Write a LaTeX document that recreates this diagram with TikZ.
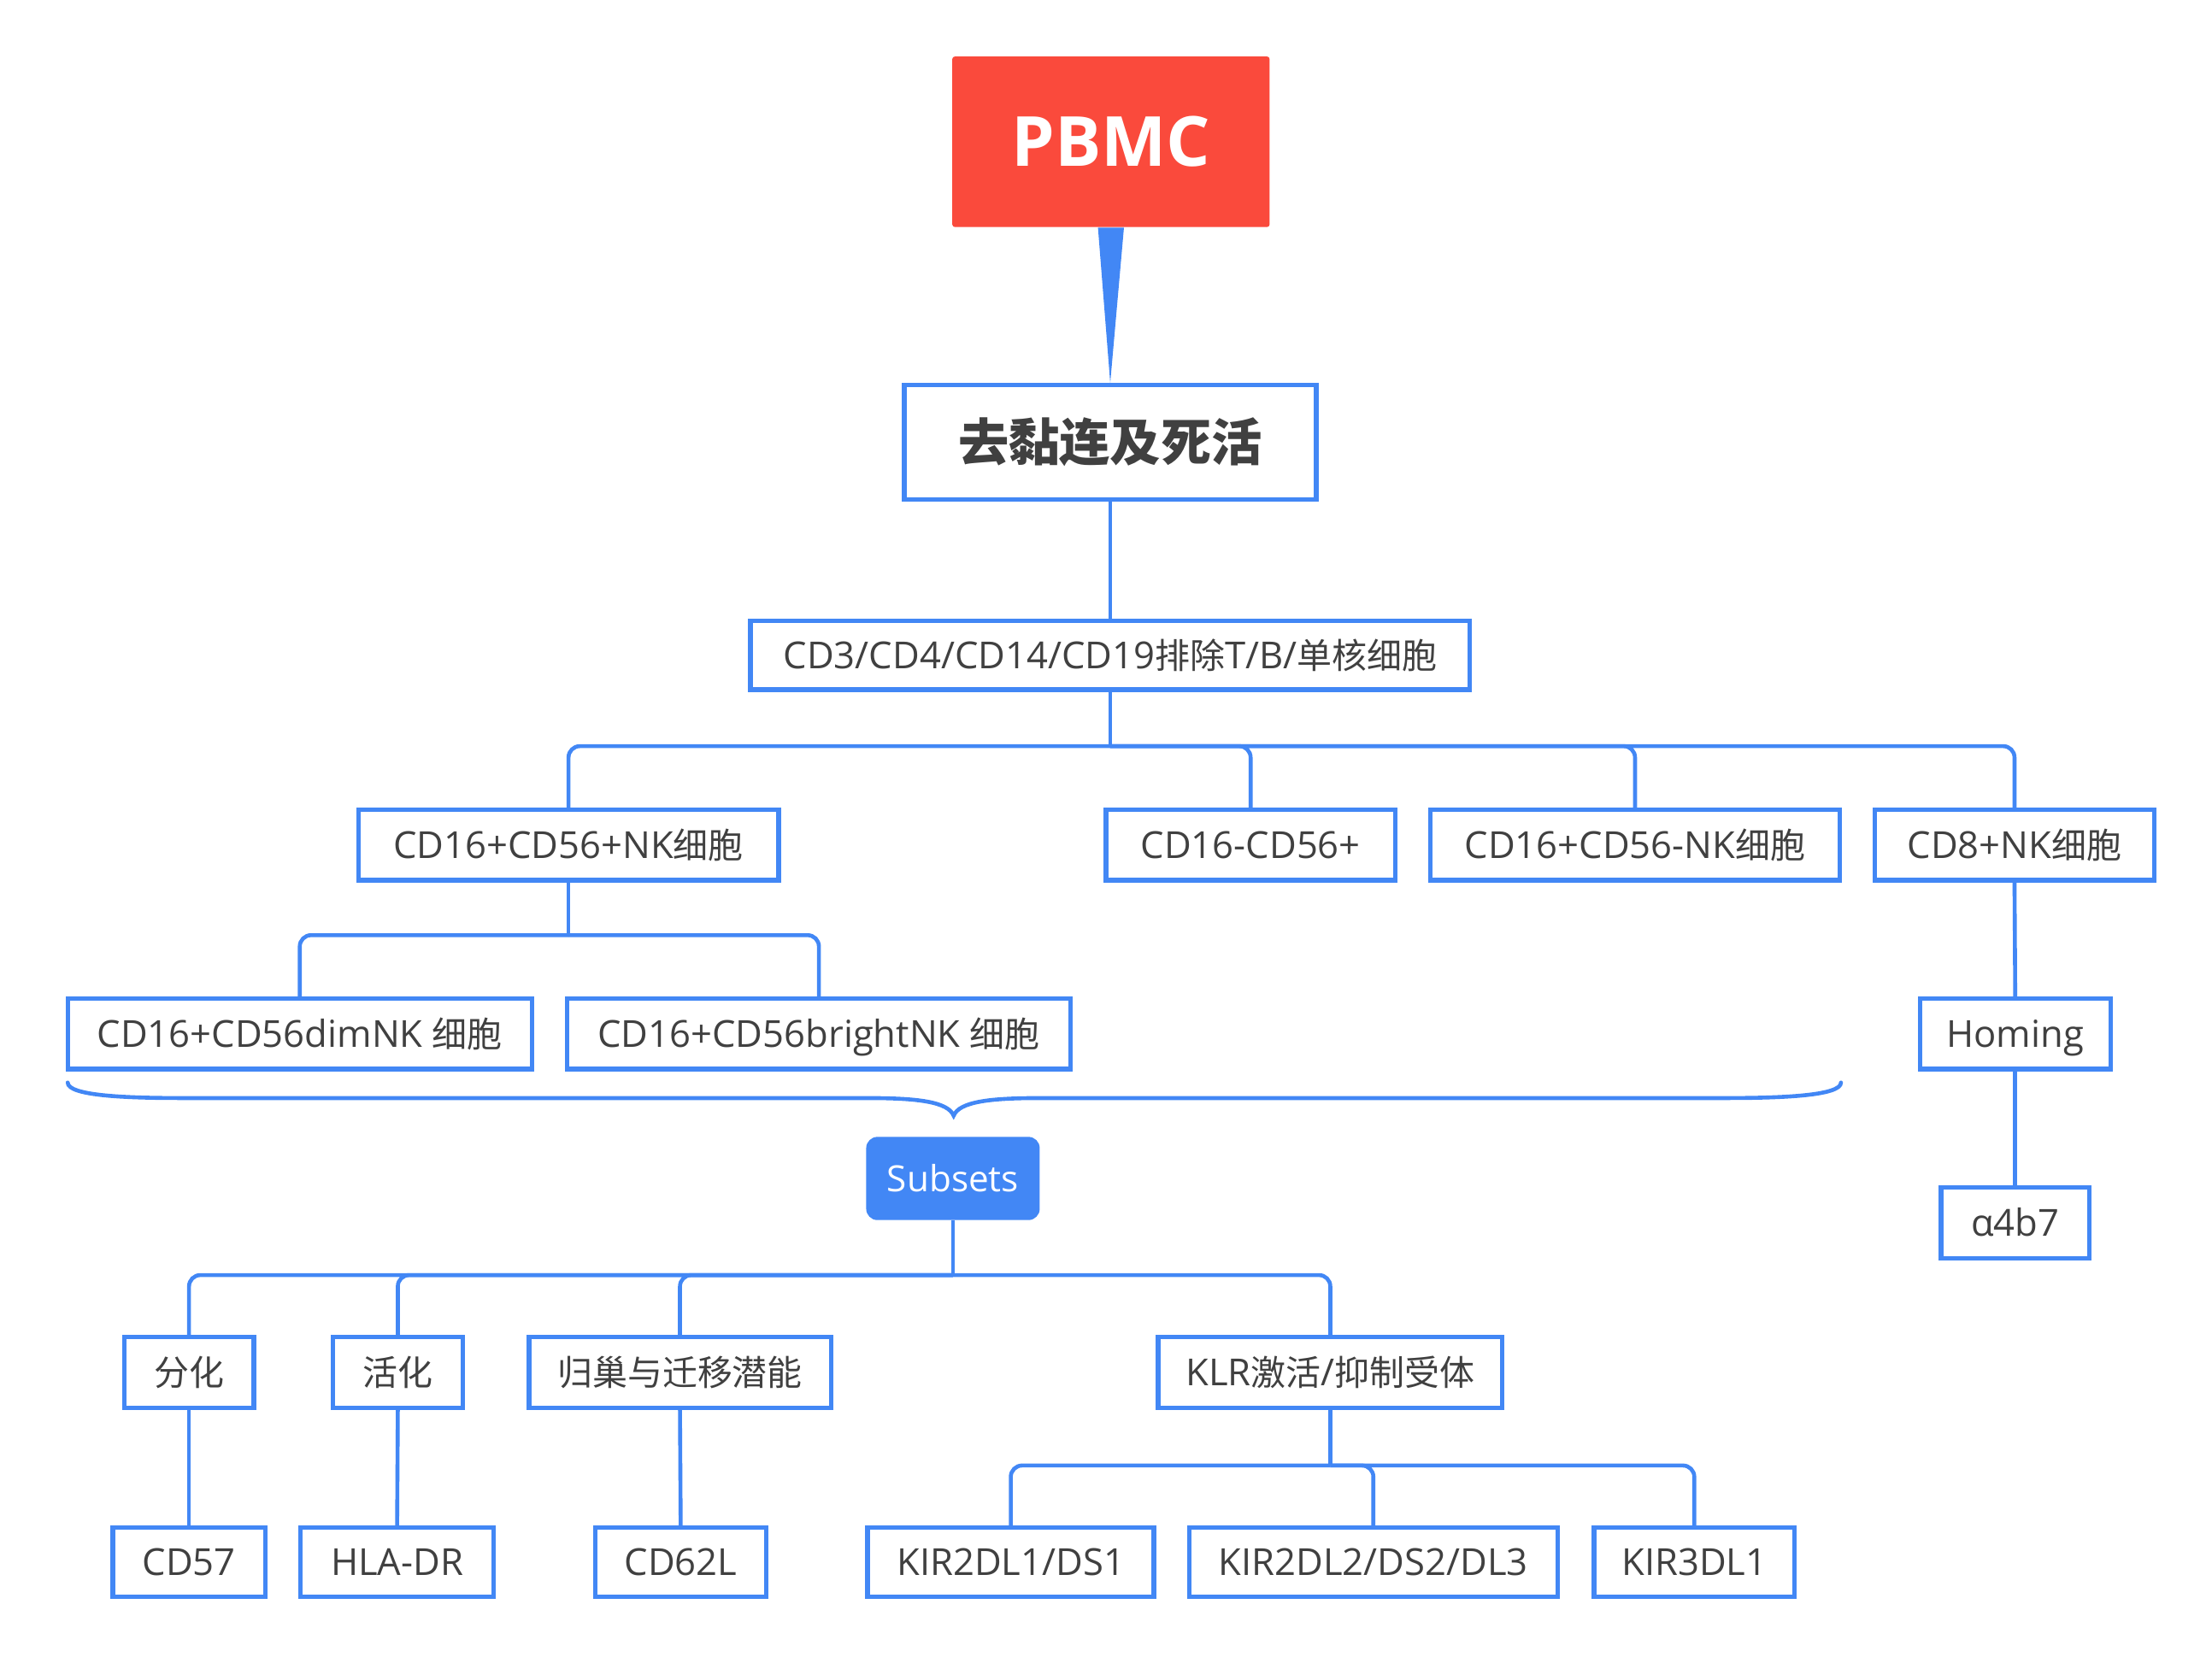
\documentclass[tikz,border=0pt]{standalone}
\usepackage{fontspec}
\setmainfont{Open Sans}
\newfontfamily\cjk[Scale=0.94]{Noto Sans CJK SC}
\definecolor{xblue}{RGB}{66,135,245}
\definecolor{xred}{RGB}{250,74,60}
\definecolor{xtext}{RGB}{64,64,64}
\tikzset{
  box/.style={draw=xblue, line width=1.6pt, fill=white, text=xtext, inner sep=0pt,
    font=\fontsize{13.2}{15}\selectfont, text height=11pt, text depth=1.6pt},
  conn/.style={draw=xblue, line width=1.4pt},
  branch/.style={conn, rounded corners=4pt},
}
\begin{document}
\begin{tikzpicture}[x=0.5pt,y=-0.5pt]
\useasboundingbox (0,0) rectangle (1568,1174.2);

% nodes
\node[fill=xred, rounded corners=1pt, inner sep=0pt, minimum width=112.5pt, minimum height=60.5pt,
      text=white, font=\fontsize{24.5}{27}\selectfont\bfseries] (pbmc) at (787.5,100.5) {PBMC};
\node[box, minimum width=146pt, minimum height=40.5pt, text height=15.6pt, text depth=2pt,
      font=\fontsize{19.1}{21}\selectfont\cjk\bfseries] (qu) at (787,313.5) {去黏连及死活};
\node[box, minimum width=255pt, minimum height=24.5pt] (cd3) at (787,464.5) {CD3/CD4/CD14/CD19{\cjk 排除}T/B/{\cjk 单核细胞}};

\node[box, minimum width=149pt, minimum height=25pt] (nk) at (403,599) {CD16+CD56+NK{\cjk 细胞}};
\node[box, minimum width=102.5pt, minimum height=25pt] (neg) at (886.5,599) {CD16-CD56+};
\node[box, minimum width=145pt, minimum height=25pt] (negnk) at (1159,599) {CD16+CD56-NK{\cjk 细胞}};
\node[box, minimum width=99pt, minimum height=25pt] (cd8) at (1428,599) {CD8+NK{\cjk 细胞}};

\node[box, minimum width=164.5pt, minimum height=25pt] (dim) at (212.5,733) {CD16+CD56dimNK {\cjk 细胞}};
\node[box, minimum width=178.5pt, minimum height=25pt] (bright) at (580.5,733) {CD16+CD56brightNK {\cjk 细胞}};
\node[box, minimum width=67.5pt, minimum height=25pt] (homing) at (1428.5,733) {Homing};
\node[box, minimum width=52.5pt, minimum height=25pt] (a4b7) at (1428.5,867) {α4b7};

\node[fill=xblue, rounded corners=4pt, inner sep=0pt, minimum width=61.5pt, minimum height=29.5pt,
      text=white, font=\fontsize{12.8}{15}\selectfont] (subsets) at (675.5,835.5) {Subsets};

\node[box, minimum width=46pt, minimum height=25pt] (fenhua) at (134,973) {\cjk 分化};
\node[box, minimum width=46pt, minimum height=25pt] (huohua) at (282,973) {\cjk 活化};
\node[box, minimum width=107pt, minimum height=25pt] (guichao) at (482,973) {\cjk 归巢与迁移潜能};
\node[box, minimum width=122pt, minimum height=25pt] (klr) at (943,973) {KLR{\cjk 激活}/{\cjk 抑制受体}};

\node[box, minimum width=54pt, minimum height=24.5pt] (cd57) at (134,1107.5) {CD57};
\node[box, minimum width=68.5pt, minimum height=24.5pt] (hla) at (281.5,1107.5) {HLA-DR};
\node[box, minimum width=60.5pt, minimum height=24.5pt] (cd62l) at (482.5,1107.5) {CD62L};
\node[box, minimum width=101.5pt, minimum height=24.5pt] (kir1) at (716.5,1107.5) {KIR2DL1/DS1};
\node[box, minimum width=130.5pt, minimum height=24.5pt] (kir2) at (973.5,1107.5) {KIR2DL2/DS2/DL3};
\node[box, minimum width=71pt, minimum height=24.5pt] (kir3) at (1201,1107.5) {KIR3DL1};

% bus levels
\coordinate (y1) at (0,529);
\coordinate (y2) at (0,663);
\coordinate (y3) at (0,904);
\coordinate (y4) at (0,1039);

% taper from root
\fill[xblue] ([xshift=-4.6pt]pbmc.south) -- ([xshift=4.6pt]pbmc.south) -- (qu.north) -- cycle;

% connectors
\draw[conn] (qu.south) -- (cd3.north);

\draw[conn] (cd3.south) -- (cd3.south |- y1);
\draw[branch] (cd3.south |- y1) -| (nk.north);
\draw[branch] (cd3.south |- y1) -| (neg.north);
\draw[branch] (cd3.south |- y1) -| (negnk.north);
\draw[branch] (cd3.south |- y1) -| (cd8.north);

\draw[conn] (nk.south) -- (nk.south |- y2);
\draw[branch] (nk.south |- y2) -| (dim.north);
\draw[branch] (nk.south |- y2) -| (bright.north);

\draw[conn] (cd8.south) -- (homing.north);
\draw[conn] (homing.south) -- (a4b7.north);

\draw[conn] (subsets.south) -- (subsets.south |- y3);
\draw[branch] (subsets.south |- y3) -| (fenhua.north);
\draw[branch] (subsets.south |- y3) -| (huohua.north);
\draw[branch] (subsets.south |- y3) -| (guichao.north);
\draw[branch] (subsets.south |- y3) -| (klr.north);

\draw[conn] (fenhua.south) -- (cd57.north);
\draw[conn] (huohua.south) -- (hla.north);
\draw[conn] (guichao.south) -- (cd62l.north);

\draw[conn] (klr.south) -- (klr.south |- y4);
\draw[branch] (klr.south |- y4) -| (kir1.north);
\draw[branch] (klr.south |- y4) -| (kir2.north);
\draw[branch] (klr.south |- y4) -| (kir3.north);

% brace
\draw[conn, line cap=round] (48,767.5) .. controls (48,777) and (90,778.5) .. (130,778.5)
  -- (615,778.5) .. controls (650,778.5) and (672,781) .. (676,791)
  .. controls (680,781) and (702,778.5) .. (737,778.5)
  -- (1222,778.5) .. controls (1262,778.5) and (1305,777) .. (1305,767.5);
\end{tikzpicture}
\end{document}
